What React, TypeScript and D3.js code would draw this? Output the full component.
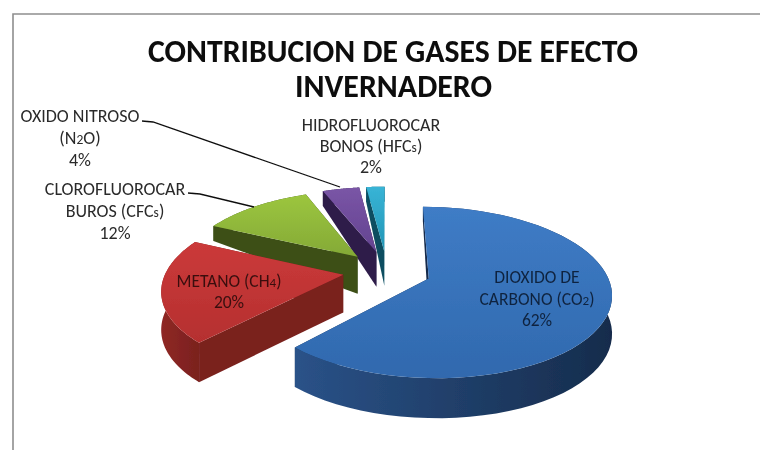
import React from "react";
import * as d3 from "d3";

const categories = ["DIOXIDO DE CARBONO", "METANO", "CLOROFLUOROCARBUROS", "OXIDO NITROSO", "HIDROFLUOROCARBONOS"];
const values = [62, 20, 12, 4, 2];
const topColors = [["#3f7cc6", "#3069ae"], ["#cb3a3a", "#b52f2f"], ["#9cc63f", "#84a936"], ["#7a55a6", "#634390"], ["#38b4d6", "#2295b5"]];
const wallColors = [["#2a5288", "#162c4c"], ["#8f2825", "#7a201e"], ["#4d651f", "#3c4f18"], ["#3d2860", "#2e1d4a"], ["#17697f", "#0f4e60"]];
const titleLines = ["CONTRIBUCION DE GASES DE EFECTO", "INVERNADERO"];

const CX = 387, CY = 271, A = 177, B = 81, P = 0.16, EXPLODE = 0.25;

const pie = d3.pie<number>().sort(null).value((d) => d);
const arcs = pie(values);

const wallScale = d3.scaleLinear().domain([-0.6, -0.2, 1]).range([15, 37, 40]).clamp(true);

type Pt = [number, number];
function project(X: number, Y: number, down = false): Pt {
  const k = 1 / (1 - P * Y);
  return [CX + A * X * k, CY + B * Y * k + (down ? wallScale(Y) : 0)];
}
function disk(a: number, r: number, o: Pt): Pt {
  return [o[0] + r * Math.sin(a), o[1] - r * Math.cos(a)];
}
const line = d3.line<Pt>();

function sliceGeom(i: number) {
  const arc = arcs[i];
  const mid = (arc.startAngle + arc.endAngle) / 2;
  const o: Pt = [EXPLODE * Math.sin(mid), -EXPLODE * Math.cos(mid)];
  const angles = d3.range(0, 61).map((t) => arc.startAngle + ((arc.endAngle - arc.startAngle) * t) / 60);
  const rim = angles.map((a) => disk(a, 1, o));
  return { o, rim };
}

function Slice({ i }: { i: number }) {
  const { o, rim } = sliceGeom(i);
  const top = [o, ...rim].map((p) => project(p[0], p[1]));
  const topPath = line(top)! + "Z";
  const face = (p: Pt) => {
    const q = [project(o[0], o[1]), project(p[0], p[1]), project(p[0], p[1], true), project(o[0], o[1], true)] as Pt[];
    return line(q)! + "Z";
  };
  const outer = [...rim.map((p) => project(p[0], p[1])), ...rim.slice().reverse().map((p) => project(p[0], p[1], true))];
  return (
    <g>
      <path d={face(rim[rim.length - 1])} fill={wallColors[i][1]} />
      <path d={line(outer)! + "Z"} fill={`url(#wall${i})`} />
      <path d={face(rim[0])} fill={wallColors[i][1]} />
      <path d={topPath} fill={`url(#top${i})`} />
    </g>
  );
}

const labelFont = "Carlito, Calibri, 'Open Sans', 'Noto Sans', sans-serif";

function Rich({ s }: { s: string }) {
  const parts = s.split(/(?<=[A-Z])([0-9s])(?=[O)])/).filter((p) => p);
  return (
    <>
      {parts.map((p, k) =>
        /^[0-9s]$/.test(p) ? <tspan key={k} fontSize="0.75em">{p}</tspan> : <tspan key={k}>{p}</tspan>
      )}
    </>
  );
}

function Label({ x, y, lines, fill = "#2a2a2a", step = 22, size = 18 }: { x: number; y: number; lines: string[]; fill?: string; step?: number; size?: number }) {
  return (
    <g fontFamily={labelFont} fontSize={size} fill={fill} textAnchor="middle">
      {lines.map((l, k) => (
        <text key={k} x={x} y={y + k * step}><Rich s={l} /></text>
      ))}
    </g>
  );
}

export default function App() {
  return (
    <svg width={760} height={450} style={{ position: "fixed", left: 0, top: 0, background: "#fff" }}>
      <defs>
        {topColors.map((c, i) => (
          <linearGradient key={i} id={`top${i}`} x1="0" y1="0" x2="0" y2="1">
            <stop offset="0" stopColor={c[0]} />
            <stop offset="1" stopColor={c[1]} />
          </linearGradient>
        ))}
        {wallColors.map((c, i) => (
          <linearGradient key={i} id={`wall${i}`} x1="0" y1="0" x2="1" y2="0">
            <stop offset="0" stopColor={c[0]} />
            <stop offset="1" stopColor={c[1]} />
          </linearGradient>
        ))}
        <filter id="soft" x="0" y="0" width="1" height="1"><feGaussianBlur stdDeviation="0.55" /></filter>
      </defs>
      <path d="M13,450 V14 H760" fill="none" stroke="#8e8e8e" strokeWidth={1.6} />
      <g filter="url(#soft)">
        <g fontFamily={labelFont} fontSize={32} fontWeight={700} fill="#0a0a0a">
          <text x={148} y={62} textLength={490} lengthAdjust="spacingAndGlyphs">{titleLines[0]}</text>
          <text x={295} y={97} textLength={197} lengthAdjust="spacingAndGlyphs">{titleLines[1]}</text>
        </g>
        {[4, 3, 2, 1, 0].map((i) => <Slice key={i} i={i} />)}
        <path d="M142,121 L153,122 L340,187" fill="none" stroke="#111" strokeWidth={1.3} />
        <path d="M188,193 L200,194 L254,207" fill="none" stroke="#111" strokeWidth={1.3} />
        <Label x={80} y={122} lines={["OXIDO NITROSO", "(N2O)", "4%"]} />
        <Label x={115} y={195} lines={["CLOROFLUOROCAR", "BUROS (CFCs)", "12%"]} />
        <Label x={371} y={131} lines={["HIDROFLUOROCAR", "BONOS (HFCs)", "2%"]} step={21} />
        <Label x={229} y={287} lines={["METANO (CH4)", "20%"]} fill="#3a1010" step={21} size={17.5} />
        <Label x={537} y={283} lines={["DIOXIDO DE", "CARBONO (CO2)", "62%"]} fill="#10243f" step={21.5} size={17.5} />
      </g>
    </svg>
  );
}
